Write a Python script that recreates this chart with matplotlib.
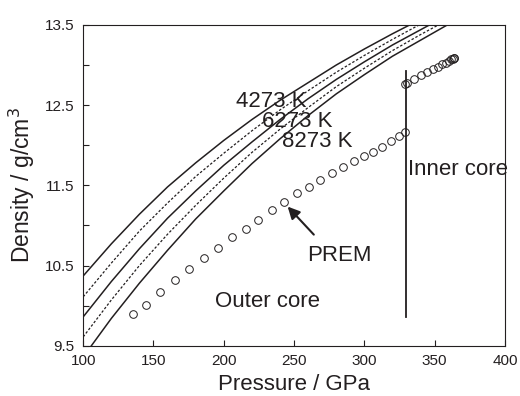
import matplotlib
matplotlib.use("Agg")
import matplotlib.pyplot as plt

plt.rcParams['font.family'] = ['Liberation Sans', 'DejaVu Sans']
ink = '#231f20'

# pressure grid (GPa) for the EOS curves
p_grid = [100, 120, 140, 160, 180, 200, 220, 240, 260, 280, 300, 320, 340, 360, 380]
# solid curves: 4273 K, 6273 K, 8273 K ; dotted curves lie in between
rho_4273 = [10.37, 10.77, 11.14, 11.48, 11.78, 12.06, 12.32, 12.56, 12.78, 13.00, 13.20, 13.39, 13.57, 13.74, 13.91]
rho_dot1 = [10.11, 10.53, 10.93, 11.28, 11.61, 11.90, 12.18, 12.44, 12.68, 12.91, 13.12, 13.32, 13.51, 13.68, 13.85]
rho_6273 = [9.86, 10.30, 10.71, 11.09, 11.43, 11.75, 12.04, 12.32, 12.58, 12.82, 13.04, 13.25, 13.44, 13.63, 13.80]
rho_dot2 = [9.61, 10.07, 10.50, 10.89, 11.25, 11.59, 11.91, 12.20, 12.47, 12.73, 12.96, 13.18, 13.38, 13.57, 13.75]
rho_8273 = [9.36, 9.84, 10.28, 10.69, 11.08, 11.43, 11.77, 12.08, 12.37, 12.64, 12.88, 13.11, 13.31, 13.51, 13.69]

# PREM outer core
prem_outer_p = [135.6, 144.4, 154.6, 165.2, 175.4, 185.9, 195.8, 206.0, 215.6, 224.5, 234.0, 243.0,
                252.2, 260.8, 268.6, 277.2, 284.8, 292.6, 299.9, 306.3, 312.4, 318.7, 324.5, 328.9]
prem_outer_rho = [9.89, 10.01, 10.17, 10.32, 10.46, 10.59, 10.72, 10.85, 10.96, 11.07, 11.19, 11.29,
                  11.40, 11.48, 11.57, 11.65, 11.73, 11.80, 11.87, 11.92, 11.98, 12.05, 12.11, 12.17]
# PREM inner core
prem_inner_p = [328.9, 330.1, 335.5, 340.4, 344.9, 348.8, 352.4, 355.4, 358.0, 360.1, 361.7, 362.9, 363.6, 363.9]
prem_inner_rho = [12.76, 12.78, 12.83, 12.87, 12.91, 12.95, 12.98, 13.01, 13.03, 13.05, 13.07, 13.08, 13.09, 13.09]

icb_p = 329.3
icb_rho = [9.86, 12.92]

fig = plt.figure(figsize=(5.2, 3.96), dpi=100)
ax = fig.add_axes([0.160, 0.127, 0.811, 0.810])

for y in [rho_4273, rho_6273, rho_8273]:
    ax.plot(p_grid, y, color=ink, lw=1.1)
for y in [rho_dot1, rho_dot2]:
    ax.plot(p_grid, y, color=ink, lw=0.9, ls=(0, (2, 1.5)))

ax.plot(prem_outer_p, prem_outer_rho, 'o', ms=5.5, mfc='none', mec=ink, mew=0.7)
ax.plot(prem_inner_p, prem_inner_rho, 'o', ms=5.5, mfc='none', mec=ink, mew=0.7)
ax.plot([icb_p, icb_p], icb_rho, color=ink, lw=1.3)

ax.text(208.6, 12.475, '4273 K', fontsize=16, color=ink)
ax.text(226.9, 12.229, '6273 K', fontsize=16, color=ink)
ax.text(241.1, 11.979, '8273 K', fontsize=16, color=ink)
ax.text(331.0, 11.625, 'Inner core', fontsize=16, color=ink, clip_on=False)
ax.text(259.2, 10.56, 'PREM', fontsize=16, color=ink)
ax.text(193.8, 9.98, 'Outer core', fontsize=16, color=ink)
ax.annotate('', xy=(244.1, 11.26), xytext=(265.4, 10.86),
            arrowprops=dict(arrowstyle='-|>', color=ink, lw=1.5, mutation_scale=18))

ax.set_xlim(100, 400)
ax.set_ylim(9.5, 13.5)
ax.set_xticks([100, 150, 200, 250, 300, 350, 400])
ax.set_yticks([9.5, 10.5, 11.5, 12.5, 13.5])
ax.set_yticks([10, 11, 12, 13], minor=True)
ax.tick_params(direction='in', length=4, width=0.8, labelsize=11, colors=ink, pad=6)
ax.tick_params(which='minor', direction='in', length=4, width=0.8, colors=ink)
for s in ax.spines.values():
    s.set_linewidth(0.8)
    s.set_color(ink)

ax.set_xlabel('Pressure / GPa', fontsize=16, color=ink, labelpad=4)
ax.set_ylabel('Density / g/cm$^3$', fontsize=16.5, color=ink, labelpad=6)

fig.savefig('out.png', dpi=100)
